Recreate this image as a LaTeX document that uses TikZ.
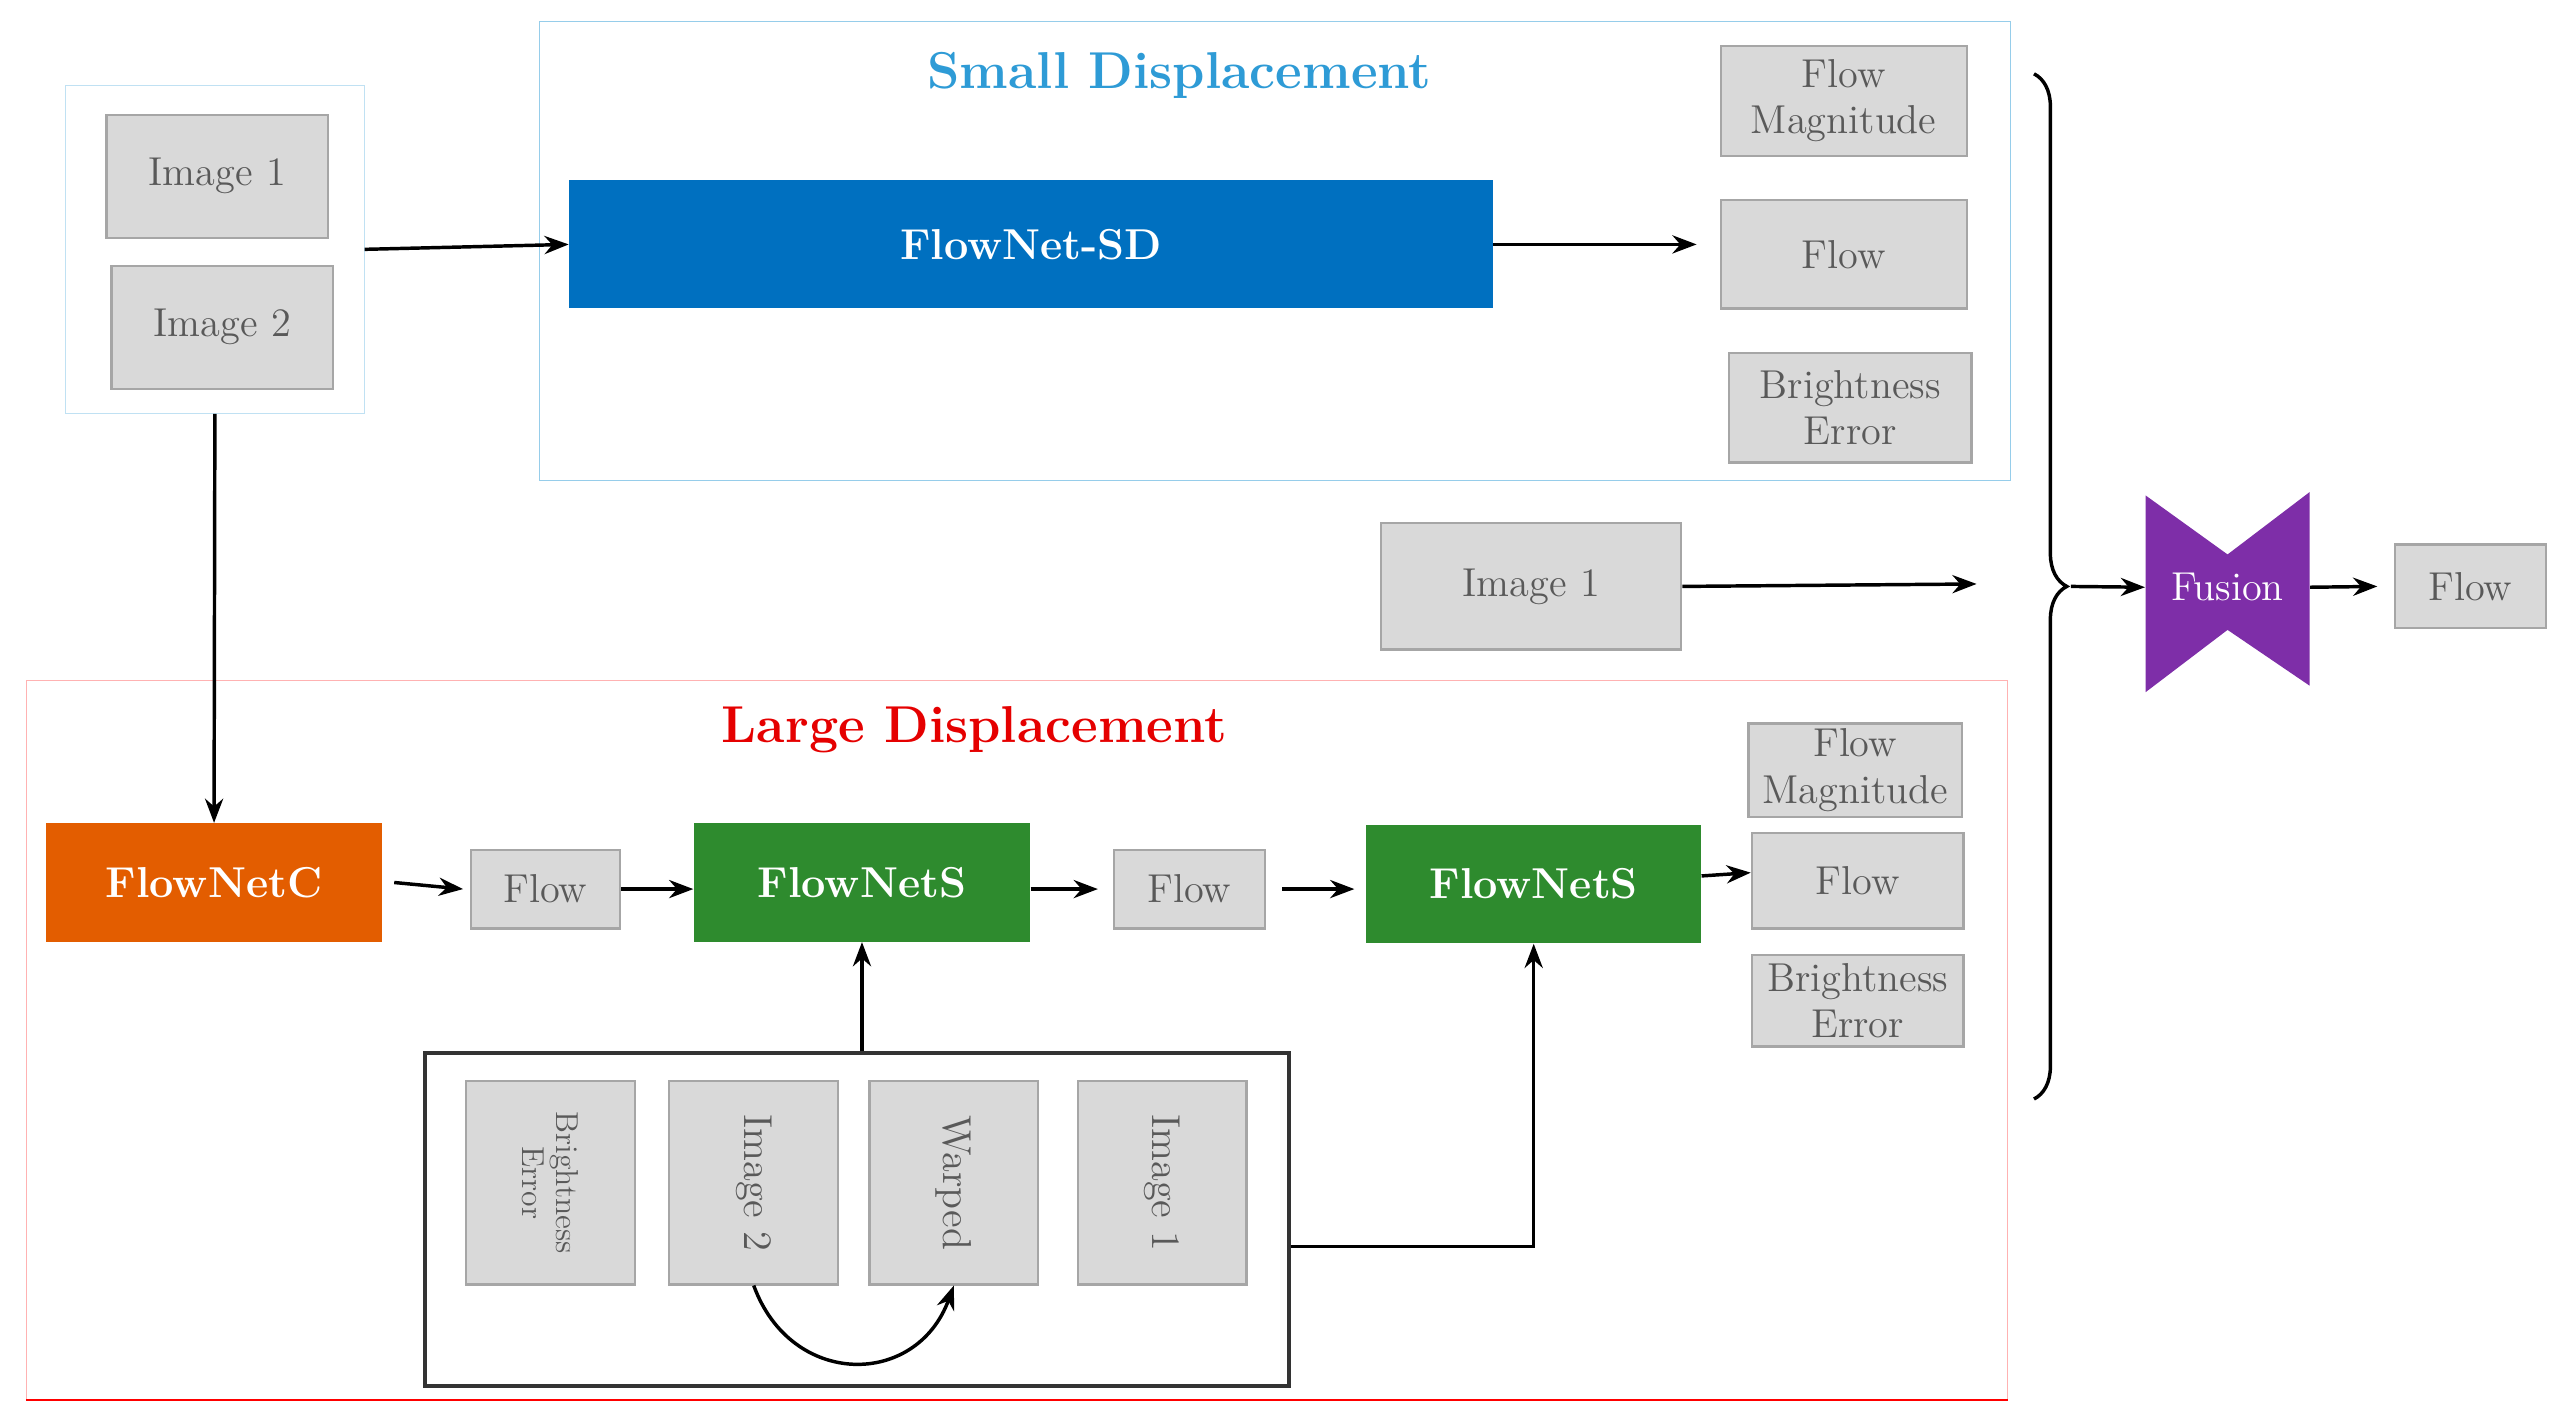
\documentclass[tikz,border=0pt]{standalone}
\usetikzlibrary{arrows.meta}
\usetikzlibrary{positioning}
\usetikzlibrary{decorations.pathreplacing}
\definecolor{boxgray}{HTML}{D9D9D9}
\definecolor{boxline}{HTML}{A6A6A6}
\definecolor{boxtext}{HTML}{595959}
\definecolor{sdblue}{HTML}{0070C0}
\definecolor{titleblue}{HTML}{2E9BD6}
\definecolor{ncorange}{HTML}{E35D00}
\definecolor{nsgreen}{HTML}{2E8B2E}
\definecolor{fusepurple}{HTML}{7E2EA8}
\begin{document}
\begin{tikzpicture}[
        x=0.02cm, y=-0.02cm,
        font=\fontsize{14}{16}\selectfont,
        gbox/.style={rectangle, draw=boxline, fill=boxgray, text=boxtext, thick, align=center, inner sep=1pt},
        net/.style={rectangle, text=white, font=\fontsize{15}{17}\selectfont\bfseries, align=center},
        frame/.style={rectangle, draw, thin},
        title/.style={font=\fontsize{18}{20}\selectfont\bfseries},
        arrow/.style={-Stealth, very thick}
        ]
        \useasboundingbox (0,0) rectangle (1568,863);

        % Input images
        \node (inbox) [frame, draw=titleblue!30, minimum width=3.64cm, minimum height=4cm] at (131,152) {};
        \node (img1a) [gbox, minimum width=2.7cm, minimum height=1.5cm] at (132.5,107.5) {Image 1};
        \node (img2a) [gbox, minimum width=2.7cm, minimum height=1.5cm] at (135.5,199.5) {Image 2};

        % Small displacement branch
        \node (sdbox) [frame, draw=titleblue!50, minimum width=17.94cm, minimum height=5.6cm] at (777.5,153) {};
        \node (sdtitle) [title, text=titleblue] at (719,46) {Small Displacement};
        \node (flownetsd) [net, fill=sdblue, minimum width=11.26cm, minimum height=1.56cm] at (628.5,149) {FlowNet-SD};
        \node (fmag1) [gbox, minimum width=3cm, minimum height=1.34cm] at (1124,61.5) {Flow\\Magnitude};
        \node (flow1) [gbox, minimum width=3cm, minimum height=1.32cm] at (1124,155) {Flow};
        \node (berr1) [gbox, minimum width=2.96cm, minimum height=1.34cm] at (1128,248.5) {Brightness\\Error};

        \node (img1b) [gbox, minimum width=3.66cm, minimum height=1.54cm] at (933.5,357.5) {Image 1};
        \coordinate (imgend) at (1205,356);

        % Fusion
        \fill[fusepurple] (1308,302) -- (1358,338) -- (1408,300) -- (1408,418) -- (1358,384) -- (1308,422) -- cycle;
        \node (fusion) [text=white, minimum width=2cm, minimum height=2.4cm] at (1358,358) {Fusion};
        \node (flowout) [gbox, minimum width=1.84cm, minimum height=1.02cm] at (1506,357.5) {Flow};

        % Large displacement branch
        \node (ldbox) [frame, draw=red!30, minimum width=24.16cm, minimum height=8.76cm] at (620,634) {};
        \draw[red, thick] (ldbox.south west) -- (ldbox.south east);
        \node (ldtitle) [title, text=red!90!black] at (594,445) {Large Displacement};
        \node (fnc)  [net, fill=ncorange, minimum width=4.1cm, minimum height=1.44cm] at (130.5,538) {FlowNetC};
        \node (flowa) [gbox, minimum width=1.82cm, minimum height=0.96cm] at (332.5,542) {Flow};
        \node (fns1) [net, fill=nsgreen, minimum width=4.1cm, minimum height=1.44cm] at (525.5,538) {FlowNetS};
        \node (flowb) [gbox, minimum width=1.84cm, minimum height=0.96cm] at (725,542) {Flow};
        \node (fns2) [net, fill=nsgreen, minimum width=4.08cm, minimum height=1.44cm] at (935,539) {FlowNetS};
        \node (fmag2) [gbox, minimum width=2.6cm, minimum height=1.14cm] at (1131,469.5) {Flow\\Magnitude};
        \node (flow2) [gbox, minimum width=2.58cm, minimum height=1.16cm] at (1132.5,537) {Flow};
        \node (berr2) [gbox, minimum width=2.58cm, minimum height=1.12cm] at (1132.5,610) {Brightness\\Error};

        % Warping inputs
        \node (botbox) [frame, draw=black!80, very thick, minimum width=10.54cm, minimum height=4.06cm] at (522.5,743.5) {};
        \node (berrr)  [gbox, rotate=-90, minimum width=2.48cm, minimum height=2.06cm, font=\fontsize{11}{12}\selectfont] at (335.5,721) {Brightness\\Error};
        \node (img2r)  [gbox, rotate=-90, minimum width=2.48cm, minimum height=2.06cm] at (459.5,721) {Image 2};
        \node (warped) [gbox, rotate=-90, minimum width=2.48cm, minimum height=2.06cm] at (581.5,721) {Warped};
        \node (img1r)  [gbox, rotate=-90, minimum width=2.48cm, minimum height=2.06cm] at (708.5,721) {Image 1};

        % Brace
        \draw[very thick, decorate, decoration={brace, amplitude=0.4cm}] (1240,45) -- (1240,670) coordinate[pos=0.5, xshift=0.45cm] (bracetip);

        % Arrows
        \draw[arrow] (inbox.east) -- (flownetsd.west);
        \draw[arrow] (flownetsd.east) -- ([xshift=-0.28cm]flow1.west |- flownetsd.east);
        \draw[arrow] (img1b.east) -- (imgend);
        \draw[arrow] (bracetip) -- (fusion.west);
        \draw[arrow] (fusion.east) -- ([xshift=-0.2cm]flowout.west);
        \draw[arrow] (inbox.south) -- (fnc.north);
        \draw[arrow] ([xshift=0.14cm]fnc.east) -- ([xshift=-0.08cm]flowa.west);
        \draw[arrow] (flowa.east) -- (fns1.west |- flowa.east);
        \draw[arrow] (fns1.east |- flowb.west) -- ([xshift=-0.18cm]flowb.west);
        \draw[arrow] ([xshift=0.2cm]flowb.east) -- ([xshift=-0.14cm]fns2.west |- flowb.east);
        \draw[arrow] ([yshift=0.1cm]fns2.east) -- ([yshift=0.1cm]flow2.west);
        \draw[arrow] (botbox.north -| fns1.south) -- (fns1.south);
        \draw[arrow] (botbox.east |- 0,760) -| (fns2.south);
        \draw[arrow] (img2r.east) to[out=-70, in=-110, looseness=1.4] (warped.east);
    \end{tikzpicture}
\end{document}
